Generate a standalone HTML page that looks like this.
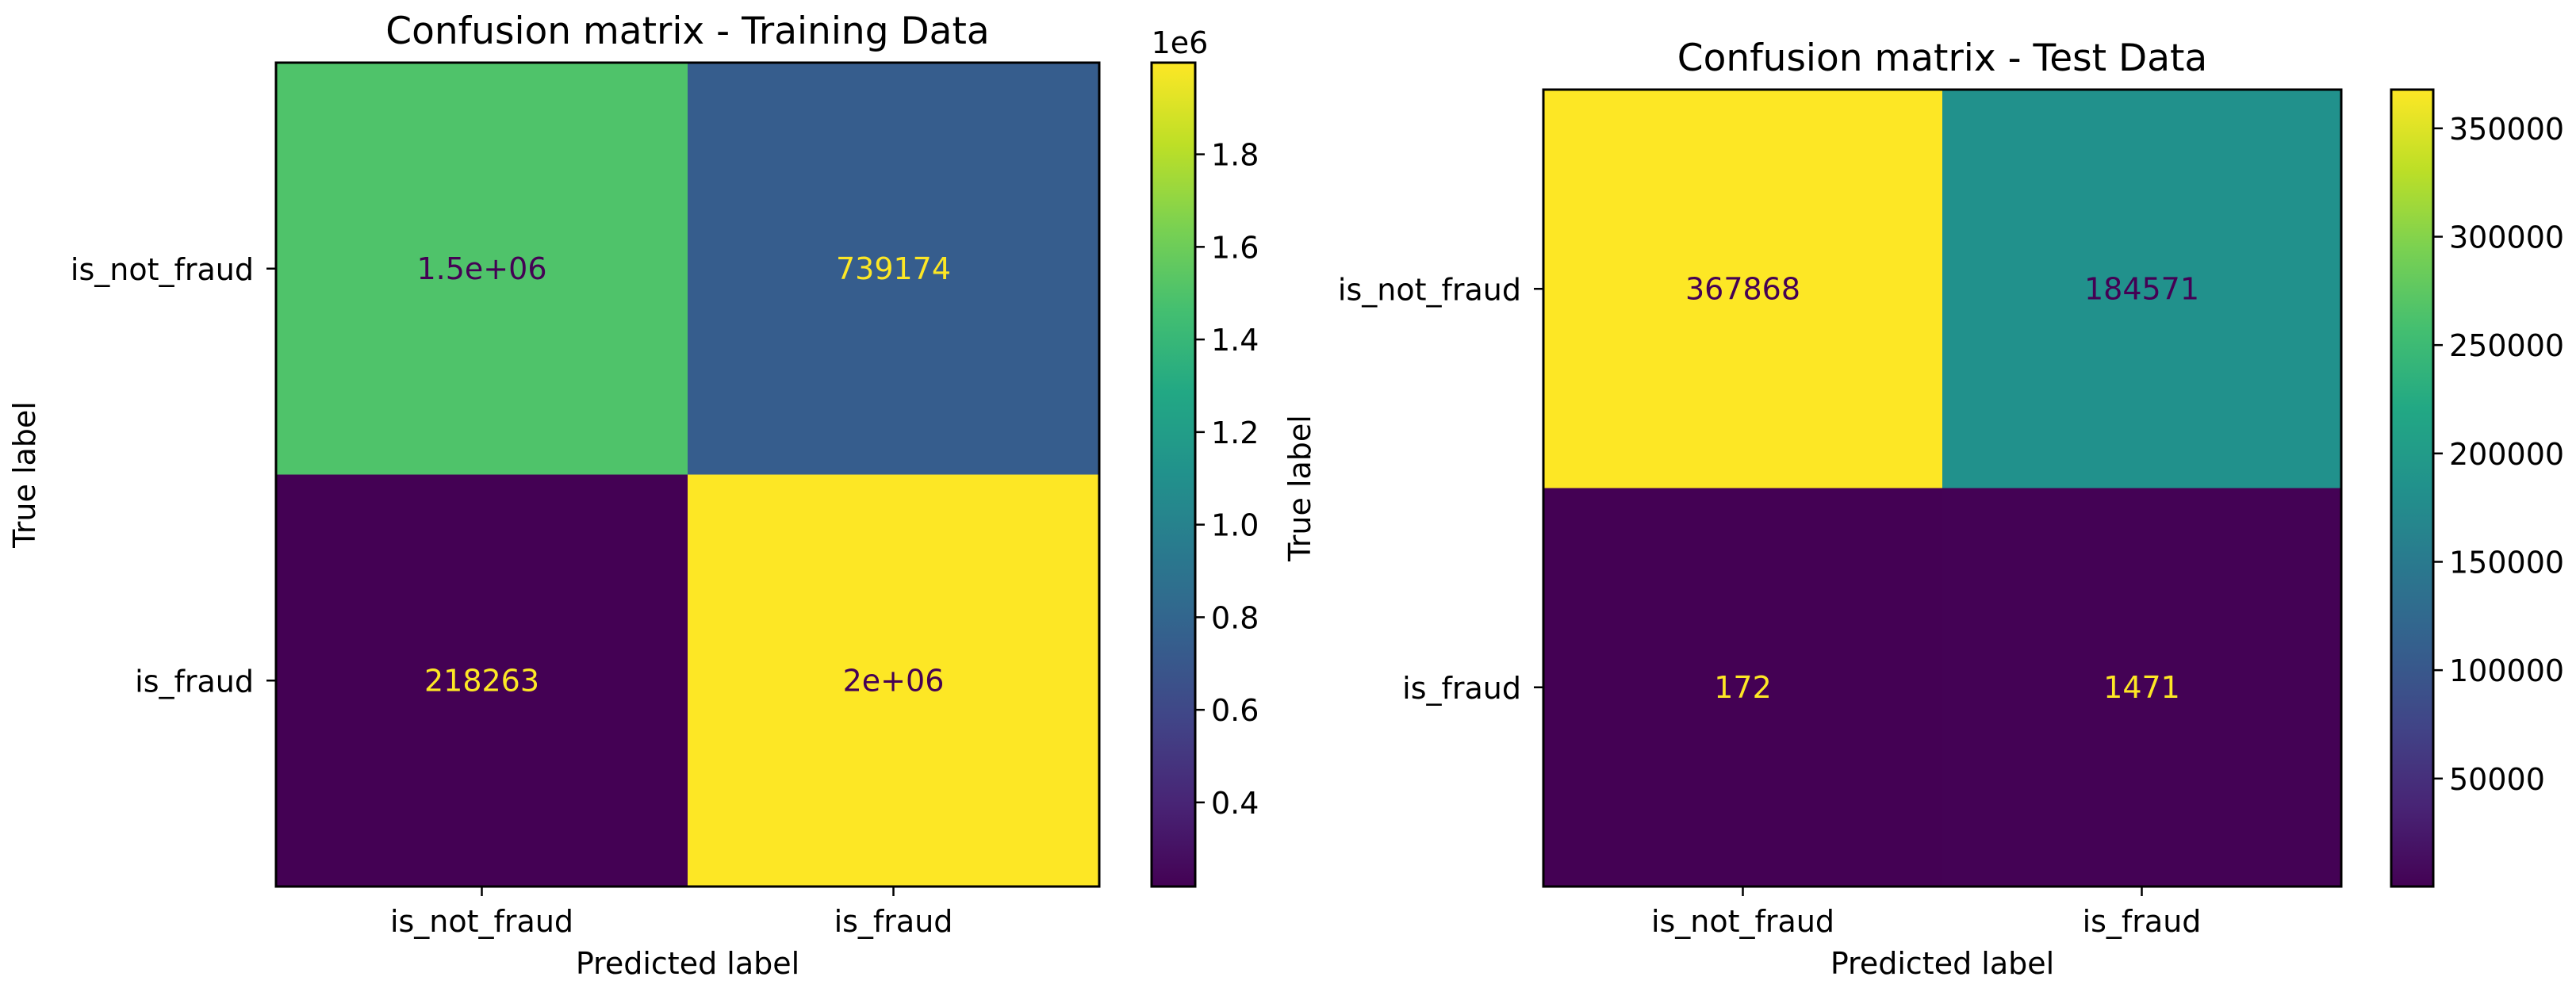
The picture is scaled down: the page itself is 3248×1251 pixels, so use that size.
<!DOCTYPE html>
<html><head><meta charset="utf-8">
<style>
html,body{margin:0;padding:0;background:#fff;}
svg{display:block;font-family:"DejaVu Sans","Liberation Sans",sans-serif;}
</style></head>
<body>
<svg id="fig" width="3248" height="1251" viewBox="0 0 3248 1251" xmlns="http://www.w3.org/2000/svg"></svg>
<script>
const classLabels = ["is_not_fraud", "is_fraud"];
const trainValues = [[1500000, 739174], [218263, 1998000]];
const trainText = [["1.5e+06", "739174"], ["218263", "2e+06"]];
const testValues = [[367868, 184571], [172, 1471]];
const testText = [["367868", "184571"], ["172", "1471"]];
const trainTicks = [400000, 600000, 800000, 1000000, 1200000, 1400000, 1600000, 1800000];
const trainTickLabels = ["0.4", "0.6", "0.8", "1.0", "1.2", "1.4", "1.6", "1.8"];
const testTicks = [50000, 100000, 150000, 200000, 250000, 300000, 350000];
const testTickLabels = ["50000", "100000", "150000", "200000", "250000", "300000", "350000"];

const VIR = ["#440154","#482475","#414487","#355f8d","#2a788e","#21918c","#22a884","#44bf70","#7ad151","#bddf26","#fde725"];
function hex(h){return [parseInt(h.slice(1,3),16),parseInt(h.slice(3,5),16),parseInt(h.slice(5,7),16)];}
function viridis(t){
  t=Math.max(0,Math.min(1,t));
  const p=t*(VIR.length-1), i=Math.min(Math.floor(p),VIR.length-2), f=p-i;
  const a=hex(VIR[i]), b=hex(VIR[i+1]);
  return "rgb("+a.map((v,k)=>Math.round(v+(b[k]-v)*f)).join(",")+")";
}
const NS="http://www.w3.org/2000/svg";
const svg=document.getElementById("fig");
function mk(tag,attrs,parent,text){
  const e=document.createElementNS(NS,tag);
  for(const k in attrs) e.setAttribute(k,attrs[k]);
  if(text!==undefined) e.textContent=text;
  (parent||svg).appendChild(e);
  return e;
}
const FS=38;
function drawPanel(cfg){
  const g=mk("g",{});
  
  
  const vals=cfg.values.flat();
  const vmin=Math.min(...vals), vmax=Math.max(...vals);
  const L=cfg.x0, R=cfg.x1, T=cfg.y0, B=cfg.y1;
  const cw=(R-L)/2, ch=(B-T)/2;
  const xCenter=i=>L+cw*(i+0.5);
  const yCenter=i=>T+ch*(i+0.5);
  for(let r=0;r<2;r++){
    for(let c=0;c<2;c++){
      const v=cfg.values[r][c];
      const t=(v-vmin)/(vmax-vmin);
      const rect=mk("rect",{x:L+cw*c,y:T+ch*r,width:cw,height:ch,fill:viridis(t)},g);
      
      
      const txt=mk("text",{x:xCenter(c),y:yCenter(r)+13,"text-anchor":"middle","font-size":FS,fill:t<0.5?viridis(1):viridis(0)},g,cfg.text[r][c]);
      
      
    }
  }
  mk("rect",{x:L,y:T,width:R-L,height:B-T,fill:"none",stroke:"#000","stroke-width":3},g);
  const title=mk("text",{x:(L+R)/2,y:T-24,"text-anchor":"middle","font-size":47,fill:"#000"},g,cfg.title);
  
  
  for(let i=0;i<2;i++){
    mk("line",{x1:L-12,x2:L,y1:yCenter(i),y2:yCenter(i),stroke:"#000","stroke-width":2.5},g);
    const yl=mk("text",{x:L-28,y:yCenter(i)+14,"text-anchor":"end","font-size":FS,fill:"#000"},g,classLabels[i]);
    
    
    mk("line",{x1:xCenter(i),x2:xCenter(i),y1:B,y2:B+12,stroke:"#000","stroke-width":2.5},g);
    const xl=mk("text",{x:xCenter(i),y:B+57,"text-anchor":"middle","font-size":FS,fill:"#000"},g,classLabels[i]);
    
    
  }
  const xt=mk("text",{x:(L+R)/2,y:B+110,"text-anchor":"middle","font-size":FS,fill:"#000"},g,"Predicted label");
  
  
  const yt=mk("text",{x:0,y:0,"text-anchor":"middle","font-size":FS,fill:"#000",transform:"translate("+cfg.ylabelX+","+(T+B)/2+") rotate(-90)"},g,"True label");
  
  
  const cbx0=cfg.cb0, cbx1=cfg.cb1;
  const gid="grad-"+cfg.name;
  const defs=mk("defs",{},g);
  const lg=mk("linearGradient",{id:gid,x1:0,y1:1,x2:0,y2:0},defs);
  for(let i=0;i<=20;i++) mk("stop",{offset:(i/20),"stop-color":viridis(i/20)},lg);
  const cb=mk("rect",{x:cbx0,y:T,width:cbx1-cbx0,height:B-T,fill:"url(#"+gid+")",stroke:"#000","stroke-width":3},g);
  
  
  const cy=v=>B-(v-vmin)/(vmax-vmin)*(B-T);
  cfg.ticks.forEach((tv,i)=>{
    const y=cy(tv);
    mk("line",{x1:cbx1,x2:cbx1+12,y1:y,y2:y,stroke:"#000","stroke-width":2.5},g);
    const tl=mk("text",{x:cbx1+20,y:y+14,"font-size":FS,fill:"#000"},g,cfg.tickLabels[i]);
    
    
  });
  if(cfg.offset){
    const off=mk("text",{x:(cbx0+cbx1)/2+8,y:T-12,"text-anchor":"middle","font-size":FS,fill:"#000"},g,cfg.offset);
    
    
  }
}
drawPanel({name:"training-panel",title:"Confusion matrix - Training Data",values:trainValues,text:trainText,
  x0:348,x1:1386,y0:79,y1:1118,cb0:1452,cb1:1507,ylabelX:44,ticks:trainTicks,tickLabels:trainTickLabels,offset:"1e6"});
drawPanel({name:"test-panel",title:"Confusion matrix - Test Data",values:testValues,text:testText,
  x0:1946,x1:2952,y0:113,y1:1118,cb0:3015,cb1:3068,ylabelX:1652,ticks:testTicks,tickLabels:testTickLabels,offset:""});
</script>
</body></html>
